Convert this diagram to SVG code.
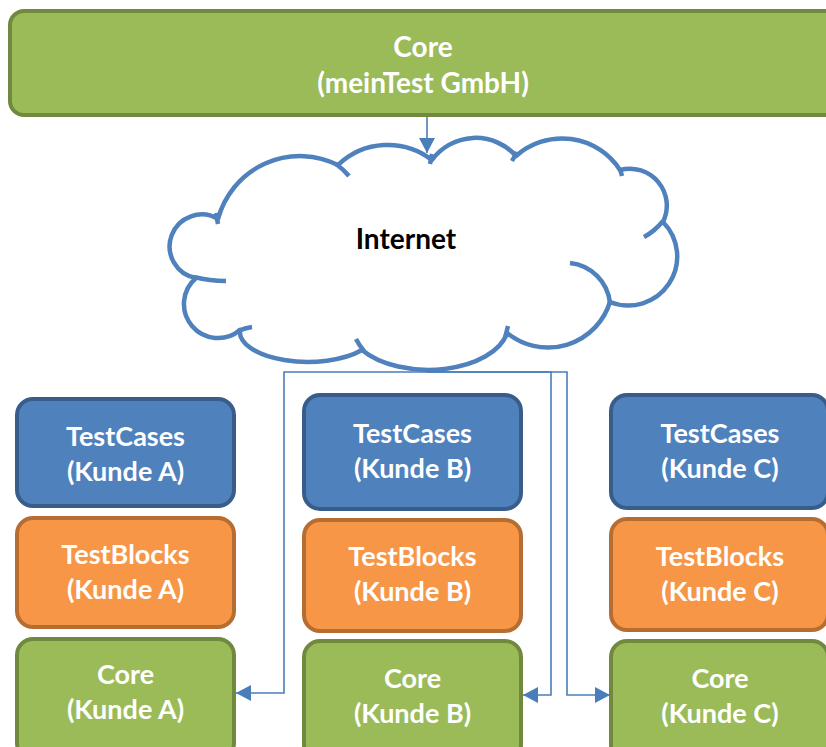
<svg xmlns="http://www.w3.org/2000/svg" width="826" height="747" viewBox="0 0 826 747">
<style>
.box{stroke-width:4}
.blue{fill:#4F81BD;stroke:#385D8A}
.orange{fill:#F79646;stroke:#B66D31}
.green{fill:#9BBB59;stroke:#71893F}
.lbl{font-family:Lato,"Liberation Sans",sans-serif;font-weight:bold;font-size:27px;fill:#FFFFFF;text-anchor:middle}
.cloud{fill:#FFFFFF;stroke:#4F81BD;stroke-width:4.5;stroke-linejoin:round}
.tail{fill:none;stroke:#4F81BD;stroke-width:4.5;stroke-linecap:butt}
.conn{fill:none;stroke:#4A7EBB;stroke-width:1.6}
</style>
<defs>
<marker id="arr" markerUnits="userSpaceOnUse" markerWidth="16" markerHeight="16" refX="15" refY="8" orient="auto">
<path d="M0,0 L15,8 L0,16 z" fill="#4A7EBB"/>
</marker>
</defs>
<rect width="826" height="747" fill="#FFFFFF"/>

<g id="core-main">
<rect class="box green" x="10" y="11" width="830" height="104" rx="14"/>
<text class="lbl" x="423" y="57" style="font-size:28px">Core</text>
<text class="lbl" x="423" y="93" style="font-size:28px">(meinTest GmbH)</text>
</g>

<g id="internet">
<path class="cloud" d="M218,219 A32,32 0 1,0 196,278 A34,34 0 0,0 240,330 A68,30 0 0,0 362,350 A80,45 0 0,0 507,333 A65,65 0 0,0 610,302 A49,49 0 0,0 663,222 A37,37 0 0,0 620,170 A69,69 0 0,0 516,156 A54,54 0 0,0 432,160 A72,72 0 0,0 338,165 A85,85 0 0,0 218,219 Z"/>
<path class="tail" d="M194,277 Q210,281 226,281"/>
<path class="tail" d="M216,213 L218,224"/>
<path class="tail" d="M238,331 Q245,328 252,327"/>
<path class="tail" d="M356,339 Q359,345 364,351"/>
<path class="tail" d="M508,326 L505,338"/>
<path class="tail" d="M570,263 A45,45 0 0,1 610,303"/>
<path class="tail" d="M663,221 Q655,231 644,237"/>
<path class="tail" d="M620,169 L622,176"/>
<path class="tail" d="M517,152 L512,161"/>
<path class="tail" d="M432,154 L430,164"/>
<path class="tail" d="M336,164 Q343,169 349,176"/>
<text x="406" y="249" font-family="Lato,'Liberation Sans',sans-serif" font-weight="bold" font-size="28" fill="#000000" text-anchor="middle">Internet</text>
</g>

<g id="testcases-a">
<rect class="box blue" x="17" y="399" width="217" height="107" rx="16"/>
<text class="lbl" x="125.5" y="446">TestCases</text>
<text class="lbl" x="125.5" y="481">(Kunde A)</text>
</g>
<g id="testblocks-a">
<rect class="box orange" x="17" y="518" width="217" height="109" rx="16"/>
<text class="lbl" x="125.5" y="564">TestBlocks</text>
<text class="lbl" x="125.5" y="599">(Kunde A)</text>
</g>
<g id="core-a">
<rect class="box green" x="17" y="639" width="217" height="120" rx="16"/>
<text class="lbl" x="125.5" y="684">Core</text>
<text class="lbl" x="125.5" y="719">(Kunde A)</text>
</g>

<g id="testcases-b">
<rect class="box blue" x="304" y="395" width="217" height="114" rx="16"/>
<text class="lbl" x="412.5" y="443">TestCases</text>
<text class="lbl" x="412.5" y="478">(Kunde B)</text>
</g>
<g id="testblocks-b">
<rect class="box orange" x="304" y="520" width="217" height="111" rx="16"/>
<text class="lbl" x="412.5" y="566">TestBlocks</text>
<text class="lbl" x="412.5" y="601">(Kunde B)</text>
</g>
<g id="core-b">
<rect class="box green" x="304" y="641" width="217" height="120" rx="16"/>
<text class="lbl" x="412.5" y="688">Core</text>
<text class="lbl" x="412.5" y="723">(Kunde B)</text>
</g>

<g id="testcases-c">
<rect class="box blue" x="611" y="395" width="217" height="113" rx="16"/>
<text class="lbl" x="720" y="443">TestCases</text>
<text class="lbl" x="720" y="478">(Kunde C)</text>
</g>
<g id="testblocks-c">
<rect class="box orange" x="611" y="519" width="217" height="111" rx="16"/>
<text class="lbl" x="720" y="566">TestBlocks</text>
<text class="lbl" x="720" y="601">(Kunde C)</text>
</g>
<g id="core-c">
<rect class="box green" x="611" y="641" width="217" height="120" rx="16"/>
<text class="lbl" x="720" y="688">Core</text>
<text class="lbl" x="720" y="723">(Kunde C)</text>
</g>

<g id="connectors">
<path class="conn" d="M427,117 V153" marker-end="url(#arr)"/>
<path class="conn" d="M427,372 H284 V693 H236" marker-end="url(#arr)"/>
<path class="conn" d="M427,372 H551 V695 H523" marker-end="url(#arr)"/>
<path class="conn" d="M427,372 H567 V695 H610" marker-end="url(#arr)"/>
</g>
</svg>
